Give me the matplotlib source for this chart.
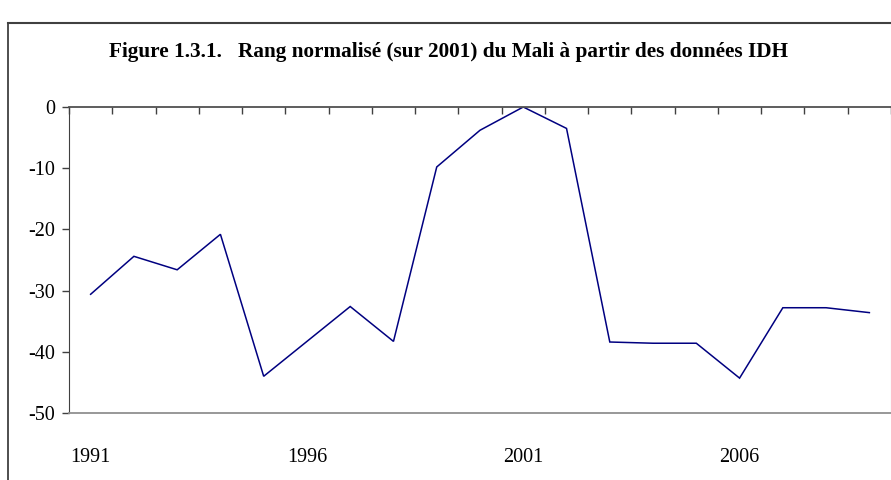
import matplotlib
matplotlib.use("Agg")
import matplotlib.pyplot as plt
import numpy as np
from matplotlib.lines import Line2D

# rang normalise (sur 2001) du Mali, donnees IDH
years = list(range(1991, 2010))
rang = [-30.6, -24.4, -26.6, -20.8, -44.0, -38.3, -32.6, -38.3, -9.8, -3.8,
        0.0, -3.5, -38.4, -38.6, -38.6, -44.3, -32.8, -32.8, -33.6]
label_years = [1991, 1996, 2001, 2006]
yticks = [0, -10, -20, -30, -40, -50]

plt.rcParams['font.family'] = ['Liberation Serif', 'DejaVu Serif']
plt.rcParams['axes.unicode_minus'] = False

W, H = 891, 480
fig = plt.figure(figsize=(W / 100, H / 100), dpi=100)
ax = fig.add_axes([69 / W, 1 - 413 / H, (W - 69) / W, (413 - 107) / H])

x = np.arange(len(years))
ax.plot(x, rang, color='#000080', lw=1.1, solid_joinstyle='miter')

ax.set_xlim(-0.5, len(years) - 0.5)
ax.set_ylim(-50, 0)

# x labels every 5 years, ticks between categories hanging from the 0 line
ax.set_xticks([years.index(y) for y in label_years], [str(y) for y in label_years])
ax.set_xticks(np.arange(-0.5, len(years)), minor=True)
ax.tick_params(axis='x', which='major', length=0, pad=25, labelsize=14.5)
ax.tick_params(axis='x', which='minor', top=True, bottom=False, direction='in',
               length=5, width=1, color='#404040')

ax.set_yticks(yticks)
ax.tick_params(axis='y', which='major', direction='out', length=5, width=1,
               pad=5, labelsize=14.5, color='#404040')

ax.spines['left'].set_color('#404040')
ax.spines['top'].set_color('#505050')
ax.spines['top'].set_linewidth(1.3)
ax.spines['bottom'].set_color('#909090')
ax.spines['bottom'].set_linewidth(1.3)
ax.spines['right'].set_color('#c0c0c0')

fig.text(448 / W, 1 - 52 / H,
         "Figure 1.3.1.   Rang normalisé (sur 2001) du Mali à partir des données IDH",
         ha='center', va='center', fontsize=15.3, fontweight='bold')

# outer chart frame (cut by the picture on the right and bottom)
fx, fy = 8 / W, 1 - 23 / H
fig.add_artist(Line2D([fx, fx], [0, fy], color='#404040', lw=1.3))
fig.add_artist(Line2D([fx, 1], [fy, fy], color='#404040', lw=1.5))

fig.savefig('out.png', dpi=100)
